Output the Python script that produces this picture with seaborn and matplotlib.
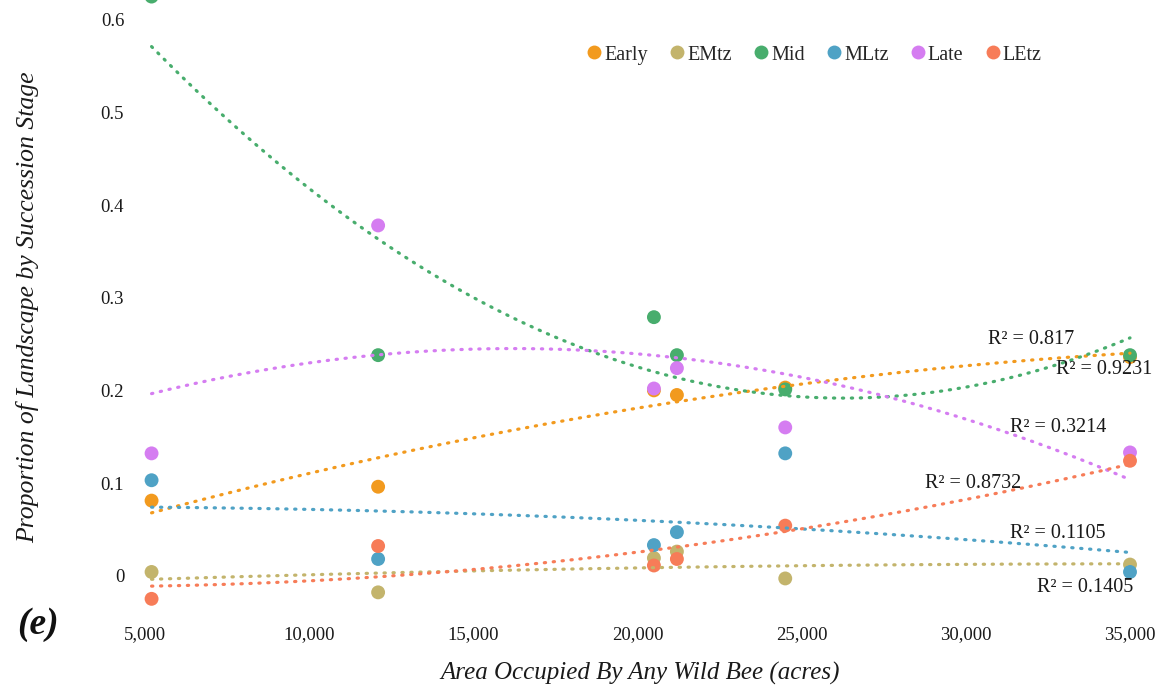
import numpy as np
import pandas as pd
import matplotlib
matplotlib.use("Agg")
import matplotlib.pyplot as plt
from matplotlib.lines import Line2D
from matplotlib.ticker import FuncFormatter
import seaborn as sns

# Area occupied by any wild bee (acres) for each landscape
area = [5200, 12100, 20500, 21200, 24500, 35000]

# Proportion of landscape in each succession stage
early = [0.081, 0.096, 0.200, 0.195, 0.203, 0.236]
emtz = [0.004, -0.018, 0.019, 0.026, -0.003, 0.012]
mid = [0.625, 0.238, 0.279, 0.238, 0.201, 0.238]
mltz = [0.103, 0.018, 0.033, 0.047, 0.132, 0.004]
late = [0.132, 0.378, 0.202, 0.224, 0.160, 0.133]
letz = [-0.025, 0.032, 0.011, 0.018, 0.054, 0.124]

stages = ["Early", "EMtz", "Mid", "MLtz", "Late", "LEtz"]
r_squared = ["0.817", "0.1405", "0.9231", "0.1105", "0.3214", "0.8732"]

colors = {
    "Early": "#F29A1E",
    "EMtz": "#C3B46C",
    "Mid": "#48AD6D",
    "MLtz": "#4FA2C5",
    "Late": "#D57DF1",
    "LEtz": "#F77C58",
}

# where each R² annotation sits (data coordinates)
r2_pos = {
    "Early": (31990, 0.255),
    "EMtz": (33630, -0.013),
    "Mid": (34210, 0.222),
    "MLtz": (32810, 0.045),
    "Late": (32810, 0.160),
    "LEtz": (30220, 0.100),
}

series = [early, emtz, mid, mltz, late, letz]
df = pd.concat(
    [pd.DataFrame({"area": area, "proportion": vals, "stage": name})
     for name, vals in zip(stages, series)],
    ignore_index=True,
)

sns.set_theme(style="white")
plt.rcParams["font.family"] = ["Liberation Serif", "DejaVu Serif"]

fig = plt.figure(figsize=(11.69, 6.97), dpi=100)
ax = fig.add_axes([145 / 1169, 1 - 622 / 697, (1130 - 145) / 1169, 622 / 697])

sns.scatterplot(data=df, x="area", y="proportion", hue="stage",
                palette=colors, hue_order=stages, s=100, linewidth=0,
                legend=False, ax=ax, zorder=2, clip_on=False)

# second-order polynomial trendlines
for name in stages:
    sub = df[df["stage"] == name]
    xs = sub["area"].to_numpy() / 1000.0
    coef = np.polyfit(xs, sub["proportion"].to_numpy(), 2)
    xf = np.linspace(xs.min(), xs.max(), 300)
    fit = pd.DataFrame({"area": xf * 1000, "proportion": np.polyval(coef, xf)})
    sns.lineplot(data=fit, x="area", y="proportion", ax=ax, color=colors[name],
                 lw=2.3, linestyle=(0, (0.4, 2.4)), dash_capstyle="round",
                 zorder=3, clip_on=False)

for name, r2 in zip(stages, r_squared):
    x, y = r2_pos[name]
    ax.text(x, y, f"R\u00b2 = {r2}", ha="center", va="center", fontsize=14.5,
            color="#1a1a1a", zorder=4)

ax.set_xlim(5000, 35000)
ax.set_ylim(-0.05, 0.6213)
ax.set_xticks(range(5000, 35001, 5000))
ax.set_yticks([0, 0.1, 0.2, 0.3, 0.4, 0.5, 0.6])
ax.xaxis.set_major_formatter(FuncFormatter(lambda v, p: f"{int(v):,}"))
ax.yaxis.set_major_formatter(FuncFormatter(lambda v, p: "0" if abs(v) < 1e-9 else f"{v:.1f}"))
ax.tick_params(axis="both", length=0, labelsize=13.5, colors="#1a1a1a")
ax.tick_params(axis="y", pad=15)
ax.tick_params(axis="x", pad=3)
for sp in ax.spines.values():
    sp.set_visible(False)
ax.grid(False)

ax.set_xlabel("")
ax.set_ylabel("")
fig.text(640 / 1169, 1 - 673 / 697, "Area Occupied By Any Wild Bee (acres)",
         ha="center", va="center", fontsize=18, style="italic", color="#1a1a1a")
fig.text(28 / 1169, 1 - 307 / 697, "Proportion of Landscape by Succession Stage",
         ha="center", va="center", rotation=90, fontsize=18.5, style="italic",
         color="#1a1a1a")
fig.text(38 / 1169, 1 - 624 / 697, "(e)", ha="center", va="center", fontsize=27,
         style="italic", weight="bold", color="#111111")

handles = [Line2D([], [], marker="o", linestyle="", markersize=10,
                  markerfacecolor=colors[n], markeredgewidth=0, label=n)
           for n in stages]
fig.legend(handles=handles, loc="center", ncol=6,
           bbox_to_anchor=(813 / 1169, 1 - 55 / 697), frameon=False,
           fontsize=14.5, handletextpad=0.0, columnspacing=0.95,
           handlelength=1.0, borderpad=0)

fig.savefig("out.png", dpi=100, facecolor="white")
